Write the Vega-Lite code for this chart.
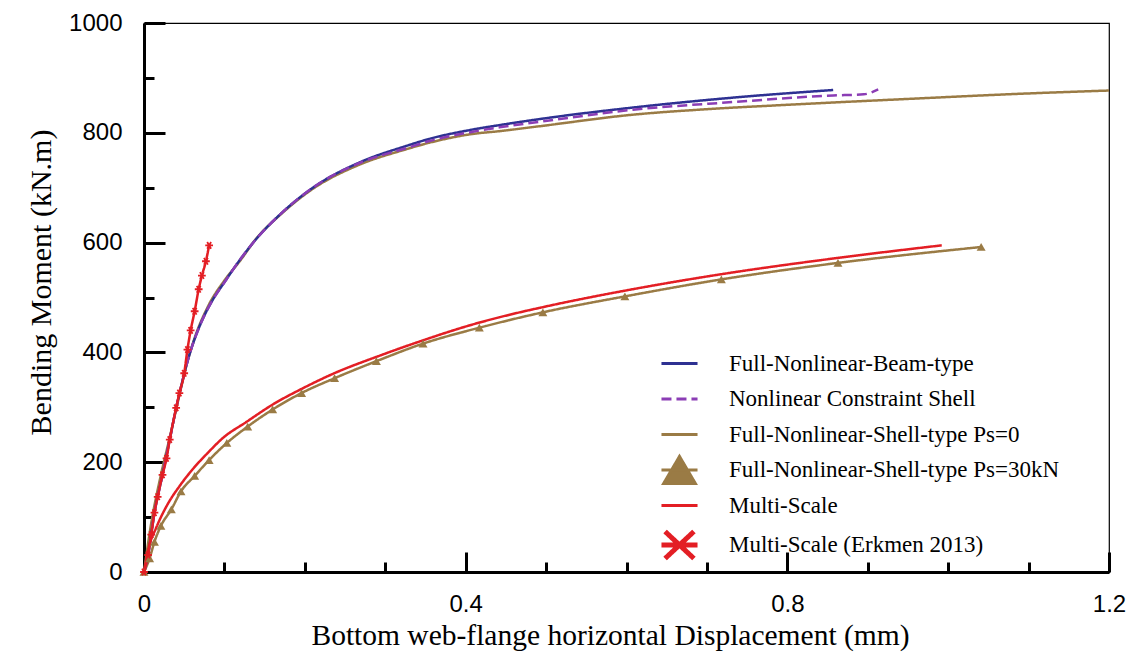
{
  "$schema": "https://vega.github.io/schema/vega-lite/v6.json",
  "width": 965,
  "height": 549,
  "autosize": "none",
  "padding": {"left": 144, "top": 23, "right": 24, "bottom": 82},
  "background": "white",
  "config": {
    "view": {"stroke": "black", "strokeWidth": 1.2},
    "axis": {
      "grid": false,
      "labelFont": "Liberation Sans",
      "labelFontSize": 24,
      "labelColor": "black",
      "titleFont": "Liberation Serif",
      "titleFontWeight": "normal",
      "titleColor": "black",
      "domainColor": "black",
      "tickColor": "black",
      "domainWidth": 3,
      "tickWidth": 3,
      "labelFlush": false,
      "zindex": 2
    }
  },
  "data": {
    "values": [
      {"s": "Full-Nonlinear-Shell-type Ps=0", "x": 0, "y": 0},
      {"s": "Full-Nonlinear-Shell-type Ps=0", "x": 0.009, "y": 89},
      {"s": "Full-Nonlinear-Shell-type Ps=0", "x": 0.02, "y": 170},
      {"s": "Full-Nonlinear-Shell-type Ps=0", "x": 0.032, "y": 245},
      {"s": "Full-Nonlinear-Shell-type Ps=0", "x": 0.044, "y": 322},
      {"s": "Full-Nonlinear-Shell-type Ps=0", "x": 0.052, "y": 372},
      {"s": "Full-Nonlinear-Shell-type Ps=0", "x": 0.062, "y": 422},
      {"s": "Full-Nonlinear-Shell-type Ps=0", "x": 0.08, "y": 485},
      {"s": "Full-Nonlinear-Shell-type Ps=0", "x": 0.1, "y": 531},
      {"s": "Full-Nonlinear-Shell-type Ps=0", "x": 0.119, "y": 566},
      {"s": "Full-Nonlinear-Shell-type Ps=0", "x": 0.14, "y": 608},
      {"s": "Full-Nonlinear-Shell-type Ps=0", "x": 0.169, "y": 650},
      {"s": "Full-Nonlinear-Shell-type Ps=0", "x": 0.21, "y": 698},
      {"s": "Full-Nonlinear-Shell-type Ps=0", "x": 0.268, "y": 742},
      {"s": "Full-Nonlinear-Shell-type Ps=0", "x": 0.326, "y": 770},
      {"s": "Full-Nonlinear-Shell-type Ps=0", "x": 0.355, "y": 782},
      {"s": "Full-Nonlinear-Shell-type Ps=0", "x": 0.409, "y": 798},
      {"s": "Full-Nonlinear-Shell-type Ps=0", "x": 0.442, "y": 803},
      {"s": "Full-Nonlinear-Shell-type Ps=0", "x": 0.492, "y": 812},
      {"s": "Full-Nonlinear-Shell-type Ps=0", "x": 0.608, "y": 833},
      {"s": "Full-Nonlinear-Shell-type Ps=0", "x": 0.7, "y": 843},
      {"s": "Full-Nonlinear-Shell-type Ps=0", "x": 0.8, "y": 851},
      {"s": "Full-Nonlinear-Shell-type Ps=0", "x": 0.94, "y": 861},
      {"s": "Full-Nonlinear-Shell-type Ps=0", "x": 1.105, "y": 872},
      {"s": "Full-Nonlinear-Shell-type Ps=0", "x": 1.2, "y": 877},

      {"s": "Full-Nonlinear-Shell-type Ps=30kN", "x": 0, "y": 0},
      {"s": "Full-Nonlinear-Shell-type Ps=30kN", "x": 0.007, "y": 25},
      {"s": "Full-Nonlinear-Shell-type Ps=30kN", "x": 0.013, "y": 55},
      {"s": "Full-Nonlinear-Shell-type Ps=30kN", "x": 0.021, "y": 84},
      {"s": "Full-Nonlinear-Shell-type Ps=30kN", "x": 0.034, "y": 114},
      {"s": "Full-Nonlinear-Shell-type Ps=30kN", "x": 0.046, "y": 147},
      {"s": "Full-Nonlinear-Shell-type Ps=30kN", "x": 0.063, "y": 175},
      {"s": "Full-Nonlinear-Shell-type Ps=30kN", "x": 0.081, "y": 204},
      {"s": "Full-Nonlinear-Shell-type Ps=30kN", "x": 0.103, "y": 235},
      {"s": "Full-Nonlinear-Shell-type Ps=30kN", "x": 0.129, "y": 265},
      {"s": "Full-Nonlinear-Shell-type Ps=30kN", "x": 0.16, "y": 296},
      {"s": "Full-Nonlinear-Shell-type Ps=30kN", "x": 0.196, "y": 326},
      {"s": "Full-Nonlinear-Shell-type Ps=30kN", "x": 0.237, "y": 353},
      {"s": "Full-Nonlinear-Shell-type Ps=30kN", "x": 0.289, "y": 384},
      {"s": "Full-Nonlinear-Shell-type Ps=30kN", "x": 0.347, "y": 416},
      {"s": "Full-Nonlinear-Shell-type Ps=30kN", "x": 0.417, "y": 445},
      {"s": "Full-Nonlinear-Shell-type Ps=30kN", "x": 0.496, "y": 473},
      {"s": "Full-Nonlinear-Shell-type Ps=30kN", "x": 0.598, "y": 502},
      {"s": "Full-Nonlinear-Shell-type Ps=30kN", "x": 0.718, "y": 533},
      {"s": "Full-Nonlinear-Shell-type Ps=30kN", "x": 0.863, "y": 563},
      {"s": "Full-Nonlinear-Shell-type Ps=30kN", "x": 1.041, "y": 592},

      {"s": "Full-Nonlinear-Beam-type", "x": 0, "y": 0},
      {"s": "Full-Nonlinear-Beam-type", "x": 0.005, "y": 31},
      {"s": "Full-Nonlinear-Beam-type", "x": 0.013, "y": 108},
      {"s": "Full-Nonlinear-Beam-type", "x": 0.023, "y": 177},
      {"s": "Full-Nonlinear-Beam-type", "x": 0.032, "y": 241},
      {"s": "Full-Nonlinear-Beam-type", "x": 0.04, "y": 299},
      {"s": "Full-Nonlinear-Beam-type", "x": 0.046, "y": 337},
      {"s": "Full-Nonlinear-Beam-type", "x": 0.053, "y": 378},
      {"s": "Full-Nonlinear-Beam-type", "x": 0.06, "y": 412},
      {"s": "Full-Nonlinear-Beam-type", "x": 0.067, "y": 440},
      {"s": "Full-Nonlinear-Beam-type", "x": 0.075, "y": 467},
      {"s": "Full-Nonlinear-Beam-type", "x": 0.084, "y": 492},
      {"s": "Full-Nonlinear-Beam-type", "x": 0.102, "y": 532},
      {"s": "Full-Nonlinear-Beam-type", "x": 0.117, "y": 564},
      {"s": "Full-Nonlinear-Beam-type", "x": 0.141, "y": 609},
      {"s": "Full-Nonlinear-Beam-type", "x": 0.169, "y": 651},
      {"s": "Full-Nonlinear-Beam-type", "x": 0.21, "y": 700},
      {"s": "Full-Nonlinear-Beam-type", "x": 0.268, "y": 746},
      {"s": "Full-Nonlinear-Beam-type", "x": 0.326, "y": 776},
      {"s": "Full-Nonlinear-Beam-type", "x": 0.355, "y": 789},
      {"s": "Full-Nonlinear-Beam-type", "x": 0.409, "y": 806},
      {"s": "Full-Nonlinear-Beam-type", "x": 0.442, "y": 814},
      {"s": "Full-Nonlinear-Beam-type", "x": 0.492, "y": 825},
      {"s": "Full-Nonlinear-Beam-type", "x": 0.608, "y": 846},
      {"s": "Full-Nonlinear-Beam-type", "x": 0.732, "y": 864},
      {"s": "Full-Nonlinear-Beam-type", "x": 0.857, "y": 878},

      {"s": "Nonlinear Constraint Shell", "x": 0, "y": 0},
      {"s": "Nonlinear Constraint Shell", "x": 0.005, "y": 31},
      {"s": "Nonlinear Constraint Shell", "x": 0.013, "y": 108},
      {"s": "Nonlinear Constraint Shell", "x": 0.023, "y": 177},
      {"s": "Nonlinear Constraint Shell", "x": 0.032, "y": 241},
      {"s": "Nonlinear Constraint Shell", "x": 0.04, "y": 299},
      {"s": "Nonlinear Constraint Shell", "x": 0.046, "y": 337},
      {"s": "Nonlinear Constraint Shell", "x": 0.053, "y": 378},
      {"s": "Nonlinear Constraint Shell", "x": 0.06, "y": 412},
      {"s": "Nonlinear Constraint Shell", "x": 0.067, "y": 440},
      {"s": "Nonlinear Constraint Shell", "x": 0.075, "y": 467},
      {"s": "Nonlinear Constraint Shell", "x": 0.084, "y": 492},
      {"s": "Nonlinear Constraint Shell", "x": 0.102, "y": 532},
      {"s": "Nonlinear Constraint Shell", "x": 0.117, "y": 564},
      {"s": "Nonlinear Constraint Shell", "x": 0.141, "y": 609},
      {"s": "Nonlinear Constraint Shell", "x": 0.169, "y": 651},
      {"s": "Nonlinear Constraint Shell", "x": 0.21, "y": 700},
      {"s": "Nonlinear Constraint Shell", "x": 0.268, "y": 745},
      {"s": "Nonlinear Constraint Shell", "x": 0.326, "y": 772},
      {"s": "Nonlinear Constraint Shell", "x": 0.355, "y": 785},
      {"s": "Nonlinear Constraint Shell", "x": 0.409, "y": 802},
      {"s": "Nonlinear Constraint Shell", "x": 0.442, "y": 810},
      {"s": "Nonlinear Constraint Shell", "x": 0.492, "y": 820},
      {"s": "Nonlinear Constraint Shell", "x": 0.608, "y": 842},
      {"s": "Nonlinear Constraint Shell", "x": 0.732, "y": 856},
      {"s": "Nonlinear Constraint Shell", "x": 0.857, "y": 868},
      {"s": "Nonlinear Constraint Shell", "x": 0.895, "y": 870},
      {"s": "Nonlinear Constraint Shell", "x": 0.913, "y": 879},

      {"s": "Multi-Scale", "x": 0, "y": 0},
      {"s": "Multi-Scale", "x": 0.006, "y": 45},
      {"s": "Multi-Scale", "x": 0.015, "y": 80},
      {"s": "Multi-Scale", "x": 0.03, "y": 125},
      {"s": "Multi-Scale", "x": 0.044, "y": 156},
      {"s": "Multi-Scale", "x": 0.061, "y": 188},
      {"s": "Multi-Scale", "x": 0.08, "y": 218},
      {"s": "Multi-Scale", "x": 0.098, "y": 244},
      {"s": "Multi-Scale", "x": 0.127, "y": 273},
      {"s": "Multi-Scale", "x": 0.16, "y": 305},
      {"s": "Multi-Scale", "x": 0.198, "y": 335},
      {"s": "Multi-Scale", "x": 0.235, "y": 361},
      {"s": "Multi-Scale", "x": 0.293, "y": 394},
      {"s": "Multi-Scale", "x": 0.347, "y": 422},
      {"s": "Multi-Scale", "x": 0.409, "y": 451},
      {"s": "Multi-Scale", "x": 0.442, "y": 464},
      {"s": "Multi-Scale", "x": 0.504, "y": 485},
      {"s": "Multi-Scale", "x": 0.6, "y": 513},
      {"s": "Multi-Scale", "x": 0.716, "y": 542},
      {"s": "Multi-Scale", "x": 0.857, "y": 571},
      {"s": "Multi-Scale", "x": 0.992, "y": 595},

      {"s": "Multi-Scale (Erkmen 2013)", "x": 0, "y": 0},
      {"s": "Multi-Scale (Erkmen 2013)", "x": 0.005, "y": 31},
      {"s": "Multi-Scale (Erkmen 2013)", "x": 0.009, "y": 68},
      {"s": "Multi-Scale (Erkmen 2013)", "x": 0.013, "y": 108},
      {"s": "Multi-Scale (Erkmen 2013)", "x": 0.017, "y": 137},
      {"s": "Multi-Scale (Erkmen 2013)", "x": 0.023, "y": 177},
      {"s": "Multi-Scale (Erkmen 2013)", "x": 0.028, "y": 207},
      {"s": "Multi-Scale (Erkmen 2013)", "x": 0.032, "y": 241},
      {"s": "Multi-Scale (Erkmen 2013)", "x": 0.04, "y": 299},
      {"s": "Multi-Scale (Erkmen 2013)", "x": 0.044, "y": 326},
      {"s": "Multi-Scale (Erkmen 2013)", "x": 0.05, "y": 362},
      {"s": "Multi-Scale (Erkmen 2013)", "x": 0.054, "y": 405},
      {"s": "Multi-Scale (Erkmen 2013)", "x": 0.058, "y": 440},
      {"s": "Multi-Scale (Erkmen 2013)", "x": 0.063, "y": 475},
      {"s": "Multi-Scale (Erkmen 2013)", "x": 0.068, "y": 515},
      {"s": "Multi-Scale (Erkmen 2013)", "x": 0.072, "y": 540},
      {"s": "Multi-Scale (Erkmen 2013)", "x": 0.077, "y": 566},
      {"s": "Multi-Scale (Erkmen 2013)", "x": 0.081, "y": 595}
    ]
  },
  "layer": [
    {
      "mark": {"type": "line", "strokeWidth": 2.5, "interpolate": "monotone"},
      "encoding": {
        "x": {
          "field": "x", "type": "quantitative",
          "scale": {"domain": [0, 1.2], "nice": false, "zero": false},
          "axis": {"values": [0, 0.1, 0.2, 0.3, 0.4, 0.5, 0.6, 0.7, 0.8, 0.9, 1.0, 1.1, 1.2],
                   "labelExpr": "indexof([0, 0.4, 0.8, 1.2], datum.value) >= 0 ? format(datum.value, '~g') : ''",
                   "ticks": true,
                   "tickSize": {"condition": {"test": "indexof([0, 0.4, 0.8, 1.2], datum.value) >= 0", "value": -20}, "value": -10},
                   "tickWidth": 3, "tickColor": "black",
                   "domain": true, "domainWidth": 3, "domainColor": "black", "labelPadding": 40,
                   "title": "Bottom web-flange horizontal Displacement (mm)", "titleFontSize": 29.5, "titleX": 466, "titlePadding": 5}
        },
        "y": {
          "field": "y", "type": "quantitative",
          "scale": {"domain": [0, 1000], "nice": false},
          "axis": {"values": [0, 50, 100, 150, 200, 250, 300, 350, 400, 450, 500, 550, 600, 650, 700, 750, 800, 850, 900, 950, 1000],
                   "labelExpr": "datum.value % 200 === 0 ? format(datum.value, 'd') : ''",
                   "ticks": true,
                   "tickSize": {"condition": {"test": "datum.value % 200 === 0", "value": -21}, "value": -10},
                   "tickWidth": 3, "tickColor": "black",
                   "domain": true, "domainWidth": 3, "domainColor": "black", "labelPadding": 43,
                   "title": "Bending Moment (kN.m)", "titleFontSize": 30, "titleY": 259, "titlePadding": 12}
        },
        "color": {
          "field": "s", "type": "nominal",
          "scale": {
            "domain": ["Full-Nonlinear-Beam-type", "Nonlinear Constraint Shell", "Full-Nonlinear-Shell-type Ps=0", "Full-Nonlinear-Shell-type Ps=30kN", "Multi-Scale", "Multi-Scale (Erkmen 2013)"],
            "range": ["#2e3192", "#8b3db5", "#9a7b45", "#9a7b45", "#e31e24", "#e31e24"]
          },
          "legend": {
            "title": null, "orient": "none", "legendX": 524, "legendY": 329, "padding": 0,
            "labelFont": "Liberation Serif", "labelFontSize": 23, "labelColor": "black",
            "labelOffset": 38, "labelLimit": 600, "symbolSize": 1300, "rowPadding": -5.5,
            "symbolStrokeWidth": 3,
            "encode": {
              "symbols": {
                "update": {
                  "shape": {"signal": "datum.value === 'Full-Nonlinear-Shell-type Ps=30kN' ? 'M-1,0H1M0,-0.75L0.88,0.75H-0.88Z' : datum.value === 'Multi-Scale (Erkmen 2013)' ? 'M-1,0H1M-0.8,-0.75L0.8,0.75M-0.8,0.75L0.8,-0.75' : 'M0,-0.75M0,0.75M-1,0H1'"},
                  "fill": {"signal": "datum.value === 'Full-Nonlinear-Shell-type Ps=30kN' ? '#9a7b45' : 'transparent'"},
                  "strokeDash": {"signal": "datum.value === 'Nonlinear Constraint Shell' ? [7,5] : [1,0]"},
                  "strokeWidth": {"signal": "datum.value === 'Multi-Scale (Erkmen 2013)' ? 5 : 3"},
                  "size": {"value": 1300},
                  "opacity": {"value": 1}
                }
              }
            }
          }
        },
        "strokeDash": {
          "field": "s", "type": "nominal",
          "scale": {
            "domain": ["Full-Nonlinear-Beam-type", "Nonlinear Constraint Shell", "Full-Nonlinear-Shell-type Ps=0", "Full-Nonlinear-Shell-type Ps=30kN", "Multi-Scale", "Multi-Scale (Erkmen 2013)"],
            "range": [[1, 0], [10, 5], [1, 0], [1, 0], [1, 0], [1, 0]]
          },
          "legend": null
        }
      }
    },
    {
      "transform": [{"filter": "datum.s === 'Full-Nonlinear-Shell-type Ps=30kN'"}],
      "mark": {"type": "point", "shape": "triangle-up", "filled": true, "size": 80, "color": "#9a7b45", "opacity": 1},
      "encoding": {
        "x": {"field": "x", "type": "quantitative"},
        "y": {"field": "y", "type": "quantitative"}
      }
    },
    {
      "transform": [{"filter": "datum.s === 'Multi-Scale (Erkmen 2013)'"}],
      "mark": {"type": "point", "shape": "M-1,0L1,0M-0.5,-0.87L0.5,0.87M-0.5,0.87L0.5,-0.87", "filled": false, "size": 60, "color": "#e31e24", "strokeWidth": 1.8, "opacity": 1},
      "encoding": {
        "x": {"field": "x", "type": "quantitative"},
        "y": {"field": "y", "type": "quantitative"}
      }
    }
  ]
}
